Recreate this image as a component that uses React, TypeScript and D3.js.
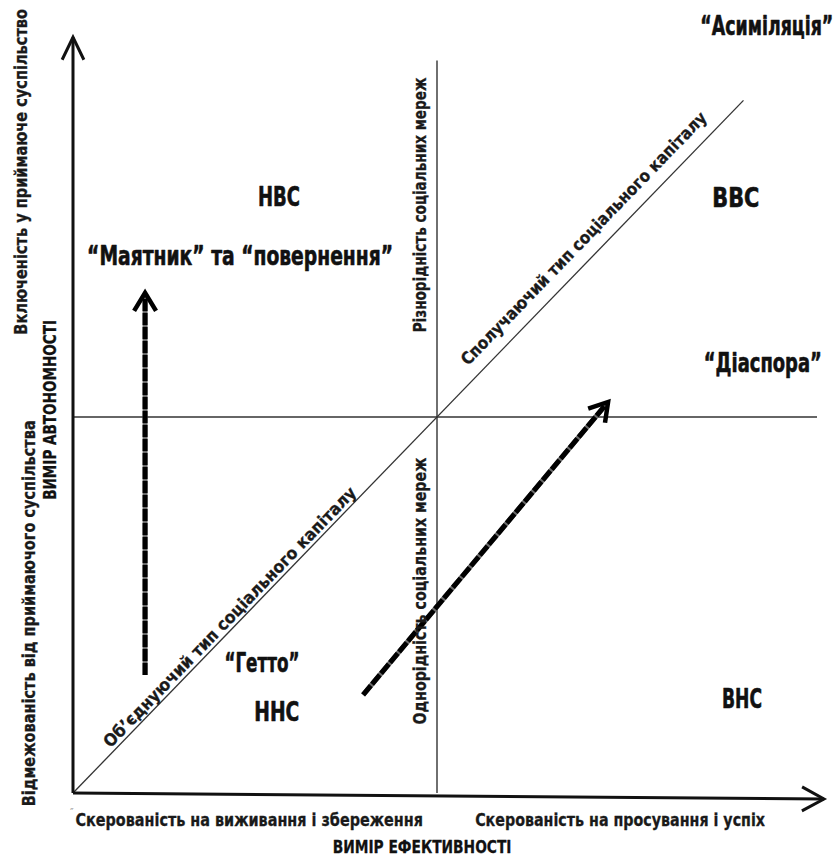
import React, { useLayoutEffect, useRef, useState } from 'react';
import * as d3 from 'd3';

// ---------- data (diagram coordinates: x = efficiency, y = autonomy, both 0..2, centre at 1) ----------
const quadrantLabels = ['НВС', 'ВВС', 'ННС', 'ВНС'];
const quadrantX = [0.566, 1.821, 0.56, 1.838];
const quadrantY = [1.561, 1.559, 0.191, 0.226];

const strategyLabels = ['“Асиміляція”', '“Маятник” та “повернення”', '“Діаспора”', '“Гетто”'];
const strategyX = [1.906, 0.459, 1.895, 0.519];
const strategyY = [2.016, 1.404, 1.12, 0.322];

const xAxisLabels = ['Скерованість на виживання і збереження', 'Скерованість на просування і успіх'];
const xAxisLabelX = [0.484, 1.503];
const xAxisTitle = 'ВИМІР ЕФЕКТИВНОСТІ';

const yAxisLabels = ['Включеність у приймаюче суспільство', 'Відмежованість від приймаючого суспільства'];
const yAxisLabelY = [1.652, 0.478];
const yAxisTitle = 'ВИМІР АВТОНОМНОСТІ';

const midLabels = ['Різнорідність соціальних мереж', 'Однорідність соціальних мереж'];
const midLabelY = [1.564, 0.537];

const diagLabels = ['Сполучаючий тип соціального капіталу', 'Об’єднуючий тип соціального капіталу'];
const diagLabelT = [1.44, 0.45];

const diagonalEnd = [0, 1.842];
const arrowFrom = [[0.198, 0.314], [0.797, 0.261]];
const arrowTo = [[0.198, 1.33], [1.47, 1.04]];

// ---------- layout / style ----------
const W = 840, H = 856;
const FONT = "'Liberation Sans Narrow','DejaVu Sans Condensed','Roboto','Noto Sans',sans-serif";
const quadrantWidths = [42, 47, 45, 40];
const strategyWidths = [133, 306, 118, 75];
const xAxisLabelWidths = [348, 290];
const yAxisLabelWidths = [326, 386];
const yAxisLabelBase = [27, 35];
const midLabelWidths = [255, 267];
const diagWidths = [345, 355];
const diagOffsets = [-13, -4];

type FitProps = {
  x: number; y: number; width: number; text: string; size: number;
  rotate?: number; dy?: number; weight?: string | number; fill?: string; heavy?: number;
};

function FitText({ x, y, width, text, size, rotate = 0, dy = 0, weight = 'bold', fill = '#111', heavy = 0 }: FitProps) {
  const ref = useRef<SVGTextElement>(null);
  const [s, setS] = useState(1);
  useLayoutEffect(() => {
    if (ref.current) {
      const n = ref.current.getComputedTextLength();
      if (n > 0) setS(width / n);
    }
  }, [text, width, size]);
  return (
    <g transform={`translate(${x},${y}) rotate(${rotate})`}>
      <text ref={ref} transform={`scale(${s},1)`} y={dy} textAnchor="middle" fontSize={size} fontWeight={weight} fill={fill}
        stroke={heavy ? fill : 'none'} strokeWidth={heavy} strokeLinejoin="round">
        {text}
      </text>
    </g>
  );
}

export default function App() {
  const x = d3.scaleLinear().domain([0, 2]).range([73, 801]);
  const y = d3.scaleLinear().domain([0, 2]).range([793, 41]);
  const ang = (Math.atan2(y(0) - y(1), x(1) - x(0)) * 180) / Math.PI;
  const line = d3.line();

  const chevron = (tx: number, ty: number, dx: number, dy: number, len: number, spread: number) => {
    const a = Math.atan2(dy, dx);
    const p1: [number, number] = [tx - len * Math.cos(a - spread), ty - len * Math.sin(a - spread)];
    const p2: [number, number] = [tx - len * Math.cos(a + spread), ty - len * Math.sin(a + spread)];
    return line([p1, [tx, ty], p2]) as string;
  };

  const axisEndX = x(2.063);
  const axisEndY = y(0) + 6;
  const yTop = y(2.01);

  return (
    <svg width={W} height={H} style={{ display: 'block', position: 'absolute', left: 0, top: 0, background: '#fff' }} fontFamily={FONT}>
      <rect width={W} height={H} fill="#fff" />
      {/* grid lines */}
      <line x1={x(0)} y1={y(1)} x2={x(2.044)} y2={y(1)} stroke="#333" strokeWidth={1.6} />
      <line x1={x(1)} y1={y(0)} x2={x(1)} y2={y(1.948)} stroke="#333" strokeWidth={1.4} />
      <line x1={x(diagonalEnd[0])} y1={y(diagonalEnd[0])} x2={x(diagonalEnd[1])} y2={y(diagonalEnd[1])} stroke="#333" strokeWidth={1.3} />

      {/* axes */}
      <line x1={x(0)} y1={y(0)} x2={x(0)} y2={yTop} stroke="#111" strokeWidth={3} />
      <path d={chevron(x(0), yTop, 0, -1, 25, 0.45)} fill="none" stroke="#111" strokeWidth={3} />
      <line x1={x(0)} y1={y(0)} x2={axisEndX} y2={axisEndY} stroke="#111" strokeWidth={3} />
      <path d={chevron(axisEndX, axisEndY, 1, 0.008, 25, 0.5)} fill="none" stroke="#111" strokeWidth={3} />

      {/* dashed arrows */}
      {arrowFrom.map((f, i) => {
        const t = arrowTo[i];
        const x1 = x(f[0]), y1 = y(f[1]), x2 = x(t[0]), y2 = y(t[1]);
        const dx = x2 - x1, dy = y2 - y1;
        const L = Math.hypot(dx, dy);
        const ex = x2 - (dx / L) * 4, ey = y2 - (dy / L) * 4;
        return (
          <g key={i}>
            <line x1={x1} y1={y1} x2={ex} y2={ey} stroke="#6a6a6a" strokeWidth={5} />
            <line x1={x1} y1={y1} x2={ex} y2={ey} stroke="#000" strokeWidth={5} strokeDasharray="12,2" />
            <path d={chevron(x2, y2, dx, dy, 21, 0.55)} fill="none" stroke="#000" strokeWidth={4.5} strokeLinejoin="miter" />
          </g>
        );
      })}

      {/* quadrant labels */}
      {quadrantLabels.map((t, i) => (
        <FitText key={t} x={x(quadrantX[i])} y={y(quadrantY[i])} width={quadrantWidths[i]} text={t} size={26} heavy={0.6} />
      ))}
      {strategyLabels.map((t, i) => (
        <FitText key={t} x={x(strategyX[i])} y={y(strategyY[i])} width={strategyWidths[i]} text={t} size={26} heavy={0.6} />
      ))}

      {/* x axis labels */}
      {xAxisLabels.map((t, i) => (
        <FitText key={t} x={x(xAxisLabelX[i])} y={y(0) + 33} width={xAxisLabelWidths[i]} text={t} size={18} fill="#1a1a1a" heavy={0.3} />
      ))}
      <text x={x(0) - 3} y={y(0) + 23} fontSize={11} fill="#999">″</text>
      <FitText x={x(0.959)} y={y(0) + 60} width={179} text={xAxisTitle} size={18} heavy={0.3} />

      {/* y axis labels */}
      {yAxisLabels.map((t, i) => (
        <FitText key={t} x={yAxisLabelBase[i]} y={y(yAxisLabelY[i])} rotate={-90} width={yAxisLabelWidths[i]} text={t} size={18} fill="#1a1a1a" heavy={0.3} />
      ))}
      <FitText x={56} y={y(1.019)} rotate={-90} width={180} text={yAxisTitle} size={18} heavy={0.3} />

      {/* mid vertical labels */}
      {midLabels.map((t, i) => (
        <FitText key={t} x={x(1) - 11} y={y(midLabelY[i])} rotate={-90} width={midLabelWidths[i]} text={t} size={18} fill="#1a1a1a" heavy={0.3} />
      ))}

      {/* diagonal labels */}
      {diagLabels.map((t, i) => (
        <FitText key={t} x={x(diagLabelT[i])} y={y(diagLabelT[i])} rotate={-ang} dy={diagOffsets[i]} width={diagWidths[i]} text={t} size={17} fill="#1a1a1a" heavy={0.3} />
      ))}
    </svg>
  );
}
